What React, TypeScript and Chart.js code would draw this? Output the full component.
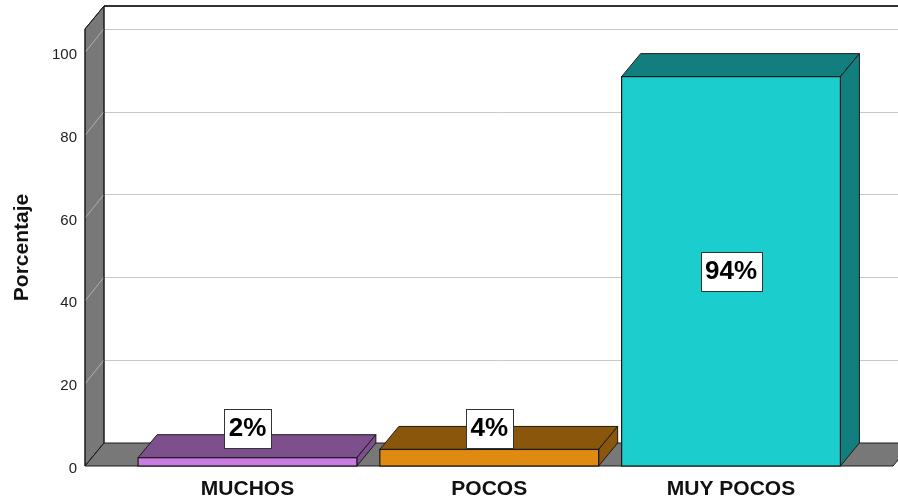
import React, { useEffect, useRef } from 'react';
import { Chart, registerables } from 'chart.js';

Chart.register(...registerables);

// ---- data ----
const categories = ['MUCHOS', 'POCOS', 'MUY POCOS'];
const percentages = [2, 4, 94];
const yTicks = [0, 20, 40, 60, 80, 100];
const yTitle = 'Porcentaje';

// ---- styles ----
const frontColors = ['#C97BE2', '#DF8A10', '#1CCDCD'];
const topColors = ['#7D4F8C', '#8A560B', '#137E7E'];
const WALL = '#787878';
const EDGE = '#1a1a1a';
const DX = 19;
const DY = -23;
const FONT = '"Liberation Sans", Arial, sans-serif';

function poly(ctx: CanvasRenderingContext2D, pts: number[][], fill: string, stroke: string) {
  ctx.beginPath();
  ctx.moveTo(pts[0][0], pts[0][1]);
  for (let i = 1; i < pts.length; i++) ctx.lineTo(pts[i][0], pts[i][1]);
  ctx.closePath();
  ctx.fillStyle = fill;
  ctx.fill();
  ctx.strokeStyle = stroke;
  ctx.lineWidth = 1;
  ctx.stroke();
}

const threeD = {
  id: 'threeD',
  beforeDatasetsDraw(chart: any) {
    const { ctx, chartArea: ca, scales } = chart;
    const ys = scales.y;
    const L = ca.left, R = ca.right, T = ca.top, B = ca.bottom;
    ctx.save();
    // back plane gridlines
    ctx.lineWidth = 1;
    ctx.strokeStyle = '#c8c8c8';
    for (const v of yTicks) {
      if (v === 0) continue;
      const py = Math.round(ys.getPixelForValue(v) + DY) + 0.5;
      ctx.beginPath();
      ctx.moveTo(L + DX, py);
      ctx.lineTo(R + DX + 40, py);
      ctx.stroke();
    }
    // top frame line
    ctx.strokeStyle = '#333';
    ctx.lineWidth = 2;
    ctx.beginPath();
    ctx.moveTo(L + DX, T + DY);
    ctx.lineTo(R + DX + 40, T + DY);
    ctx.stroke();
    // left wall
    poly(ctx, [[L, T], [L + DX, T + DY], [L + DX, B + DY], [L, B]], WALL, EDGE);
    ctx.strokeStyle = '#b0b0b0';
    ctx.lineWidth = 1;
    for (const v of yTicks) {
      if (v === 0) continue;
      const py = ys.getPixelForValue(v);
      ctx.beginPath();
      ctx.moveTo(L + 0.5, py);
      ctx.lineTo(L + DX, py + DY);
      ctx.stroke();
    }
    ctx.beginPath();
    ctx.moveTo(L, T); ctx.lineTo(L + DX, T + DY); ctx.lineTo(L + DX, B + DY); ctx.lineTo(L, B); ctx.closePath();
    ctx.strokeStyle = EDGE;
    ctx.stroke();
    // floor
    poly(ctx, [[L, B], [L + DX, B + DY], [R + DX, B + DY], [R, B]], WALL, EDGE);
    // bar top and side faces
    const meta = chart.getDatasetMeta(0);
    meta.data.forEach((bar: any, i: number) => {
      const { x, y, base, width } = bar.getProps(['x', 'y', 'base', 'width'], true);
      const l = x - width / 2, r = x + width / 2;
      poly(ctx, [[l, y], [l + DX, y + DY], [r + DX, y + DY], [r, y]], topColors[i], EDGE);
      poly(ctx, [[r, y], [r + DX, y + DY], [r + DX, base + DY], [r, base]], topColors[i], EDGE);
    });
    ctx.restore();
  },
  afterDatasetsDraw(chart: any) {
    const { ctx } = chart;
    const meta = chart.getDatasetMeta(0);
    ctx.save();
    // crisp outline of front faces
    meta.data.forEach((bar: any) => {
      const { x, y, base, width } = bar.getProps(['x', 'y', 'base', 'width'], true);
      ctx.strokeStyle = EDGE;
      ctx.lineWidth = 1.2;
      ctx.strokeRect(x - width / 2, y, width, base - y);
    });
    ctx.font = `bold 26px ${FONT}`;
    ctx.textAlign = 'center';
    ctx.textBaseline = 'middle';
    meta.data.forEach((bar: any, i: number) => {
      const { x, y, base } = bar.getProps(['x', 'y', 'base'], true);
      const text = `${percentages[i]}%`;
      const tw = ctx.measureText(text).width;
      const bw = Math.round(tw + 9);
      const bh = 39;
      let cy = (y + base) / 2;
      let cx = x;
      if (base - cy < 38) cy = base - 38;
      const bx = Math.round(cx - bw / 2) + 0.5;
      const by = Math.round(cy - bh / 2) + 0.5;
      ctx.fillStyle = '#ffffff';
      ctx.fillRect(bx, by, bw, bh);
      ctx.strokeStyle = '#333';
      ctx.lineWidth = 1;
      ctx.strokeRect(bx, by, bw, bh);
      ctx.fillStyle = '#000';
      ctx.fillText(text, cx, cy + 1);
    });
    ctx.restore();
  },
};

export default function App() {
  const ref = useRef<HTMLCanvasElement>(null);
  useEffect(() => {
    Chart.defaults.font.family = FONT;
    const chart = new Chart(ref.current as HTMLCanvasElement, {
      type: 'bar',
      data: {
        datasets: [
          {
            data: percentages.map((v, i) => ({ x: i, y: v })) as any,
            backgroundColor: frontColors,
            borderColor: EDGE,
            borderWidth: 0,
            categoryPercentage: 1,
            barPercentage: 0.905,
          },
        ],
      },
      options: {
        responsive: false,
        animation: false,
        devicePixelRatio: 1,
        layout: { padding: { top: 29, right: 5, left: 0, bottom: 0 } },
        plugins: { legend: { display: false }, tooltip: { enabled: false } },
        scales: {
          x: {
            type: 'linear',
            offset: false,
            min: -0.672,
            max: 2.67,
            grid: { display: false, drawTicks: false },
            border: { display: false },
            afterBuildTicks: (s: any) => {
              s.ticks = categories.map((_, i) => ({ value: i }));
            },
            afterFit: (s: any) => {
              s.height = 35;
            },
            ticks: {
              autoSkip: false,
              maxRotation: 0,
              padding: 11,
              color: '#111',
              font: { size: 21, weight: 'bold' },
              callback: (v: any) => categories[v] ?? '',
            },
          },
          y: {
            min: 0,
            max: 105.5,
            afterBuildTicks: (s: any) => {
              s.ticks = yTicks.map((v) => ({ value: v }));
            },
            afterFit: (s: any) => {
              s.width = 85;
            },
            grid: { display: false, drawTicks: false },
            border: { display: false },
            ticks: { padding: 8, labelOffset: 3, color: '#222', font: { size: 15 } },
            title: {
              display: true,
              text: yTitle,
              color: '#111',
              font: { size: 21, weight: 'bold' },
              padding: { top: 10, bottom: 0 },
            },
          },
        },
      } as any,
      plugins: [threeD],
    });
    return () => chart.destroy();
  }, []);
  return (
    <div style={{ position: 'fixed', left: 0, top: 0, width: 898, height: 501, background: '#fff' }}>
      <canvas ref={ref} width={898} height={501} style={{ display: 'block', width: 898, height: 501 }} />
    </div>
  );
}
